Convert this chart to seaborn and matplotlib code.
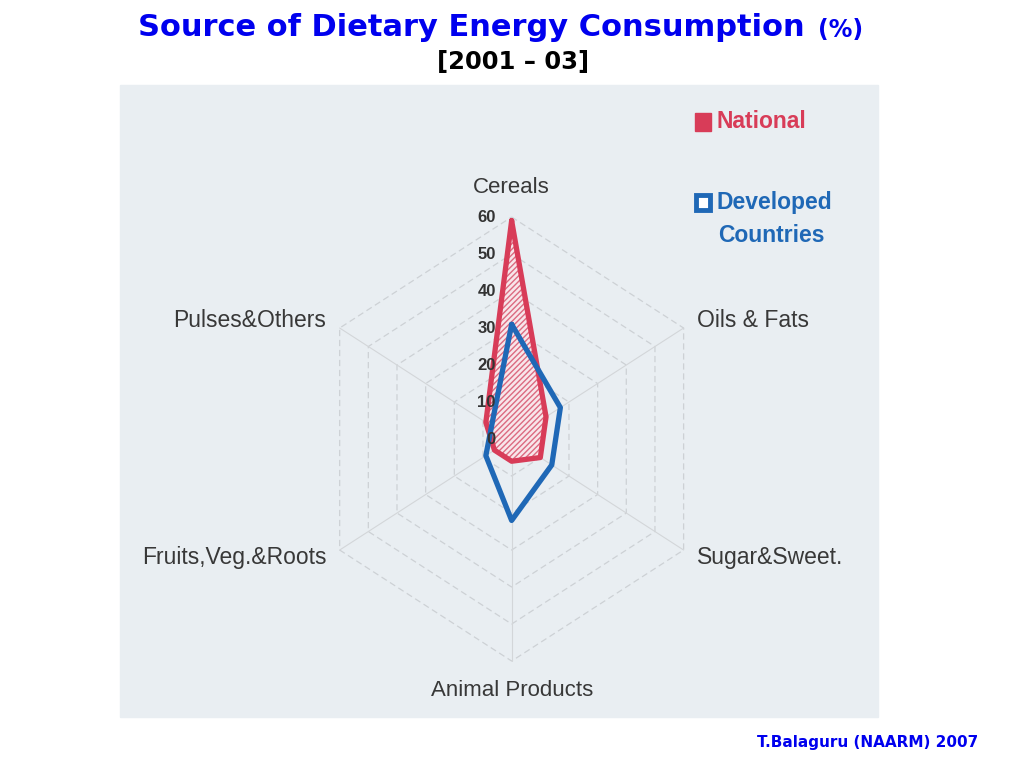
import numpy as np
import pandas as pd
import matplotlib
matplotlib.use("Agg")
import matplotlib.pyplot as plt
import seaborn as sns
from matplotlib.patches import Rectangle

categories = ["Cereals", "Oils & Fats", "Sugar&Sweet.", "Animal Products",
              "Fruits,Veg.&Roots", "Pulses&Others"]
national = [59, 12, 10, 6, 6, 9]
developed = [31, 17, 14, 22, 9, 7]
ticks = [0, 10, 20, 30, 40, 50, 60]

red = "#d83c58"
blue = "#1f68b6"

sns.set_theme(style="white")
plt.rcParams["font.family"] = ["Liberation Sans", "DejaVu Sans"]

# axes go clockwise starting at the top
angles = np.deg2rad(np.arange(len(categories)) * 360 / len(categories))


def to_xy(vals):
    v = np.append(vals, vals[0])
    a = np.append(angles, angles[0])
    return v * np.sin(a), v * np.cos(a)


fig = plt.figure(figsize=(10.24, 7.68), dpi=100)
fig.patch.set_facecolor("white")
fig.patches.append(Rectangle((120 / 1024, 51 / 768), 758 / 1024, 632 / 768,
                             transform=fig.transFigure, color="#e9eef2", zorder=-5))

ax = fig.add_axes([0.2734, 0.0911, 0.4525, 0.6745])
ax.set_zorder(2)
ax.set_xlim(-70, 70)
ax.set_ylim(-70, 70)
ax.axis("off")
ax.patch.set_visible(False)

# hexagon grid + spokes
for r in ticks[1:]:
    gx, gy = to_xy([r] * len(categories))
    ax.plot(gx, gy, color="#cdd1d5", lw=0.9, ls=(0, (5, 3)), zorder=1)
for a in angles:
    ax.plot([0, 60 * np.sin(a)], [0, 60 * np.cos(a)], color="#d3d6d9", lw=0.8, zorder=1)

for t in ticks:
    ax.text(-4.8, t, str(t), ha="right", va="center", fontsize=12,
            fontweight="bold", color="#333333", zorder=5)

# category labels
for cat, a in zip(categories, angles):
    s, c = np.sin(a), np.cos(a)
    if abs(s) < 0.01:
        R = 68
        ax.text(0, R * c, cat, ha="center", va="center", fontsize=16, color="#383838")
    else:
        R = 64
        ax.text(R * s + (0.6 if s > 0 else -0.6), R * c, cat,
                ha="left" if s > 0 else "right", va="center",
                fontsize=16.5, color="#383838")

# national: hatched fill + outline
nx, ny = to_xy(national)
ax.fill(nx, ny, facecolor="#f8e6ea", edgecolor="#dc6a80", hatch="//////",
        linewidth=0, zorder=2)
dev_x, dev_y = to_xy(developed)
df = pd.concat([
    pd.DataFrame({"x": nx, "y": ny, "series": "National", "order": range(len(nx))}),
    pd.DataFrame({"x": dev_x, "y": dev_y, "series": "Developed Countries",
                  "order": range(len(dev_x))}),
])
sns.lineplot(data=df, x="x", y="y", hue="series", sort=False, estimator=None,
             units="series", palette={"National": red, "Developed Countries": blue},
             linewidth=3.8, legend=False, ax=ax, zorder=3)
ax.set_xlim(-70, 70)
ax.set_ylim(-70, 70)
ax.axis("off")

# legend
fig.patches.append(Rectangle((695 / 1024, (768 - 131) / 768), 16 / 1024, 18 / 768,
                             transform=fig.transFigure, facecolor=red,
                             edgecolor=red, hatch="////", zorder=5))
fig.text(716 / 1024, 1 - 122 / 768, "National", fontsize=16.5, fontweight="bold",
         color=red, ha="left", va="center")
fig.patches.append(Rectangle((696 / 1024, (768 - 210) / 768), 14 / 1024, 15 / 768,
                             transform=fig.transFigure, facecolor="white",
                             edgecolor=blue, lw=3.5, zorder=5))
fig.text(716 / 1024, 1 - 203 / 768, "Developed", fontsize=16.5, fontweight="bold",
         color=blue, ha="left", va="center")
fig.text(718 / 1024, 1 - 235 / 768, "Countries", fontsize=16.5, fontweight="bold",
         color=blue, ha="left", va="center")

# titles
fig.text(138 / 1024, 1 - 28 / 768, "Source of Dietary Energy Consumption",
         fontsize=22, fontweight="bold", color="#0000ee", family="DejaVu Sans",
         ha="left", va="center")
fig.text(841 / 1024, 1 - 30 / 768, "(%)", fontsize=17, fontweight="bold",
         color="#0000ee", family="DejaVu Sans", ha="center", va="center")
fig.text(513 / 1024, 1 - 62 / 768, "[2001 \u2013 03]", fontsize=17.5, fontweight="bold",
         color="black", family="DejaVu Sans", ha="center", va="center")
fig.text(978 / 1024, 1 - 742 / 768, "T.Balaguru (NAARM) 2007", fontsize=11,
         fontweight="bold", color="#0000ee", family="DejaVu Sans", ha="right",
         va="center")

fig.savefig("out.png", dpi=100)
